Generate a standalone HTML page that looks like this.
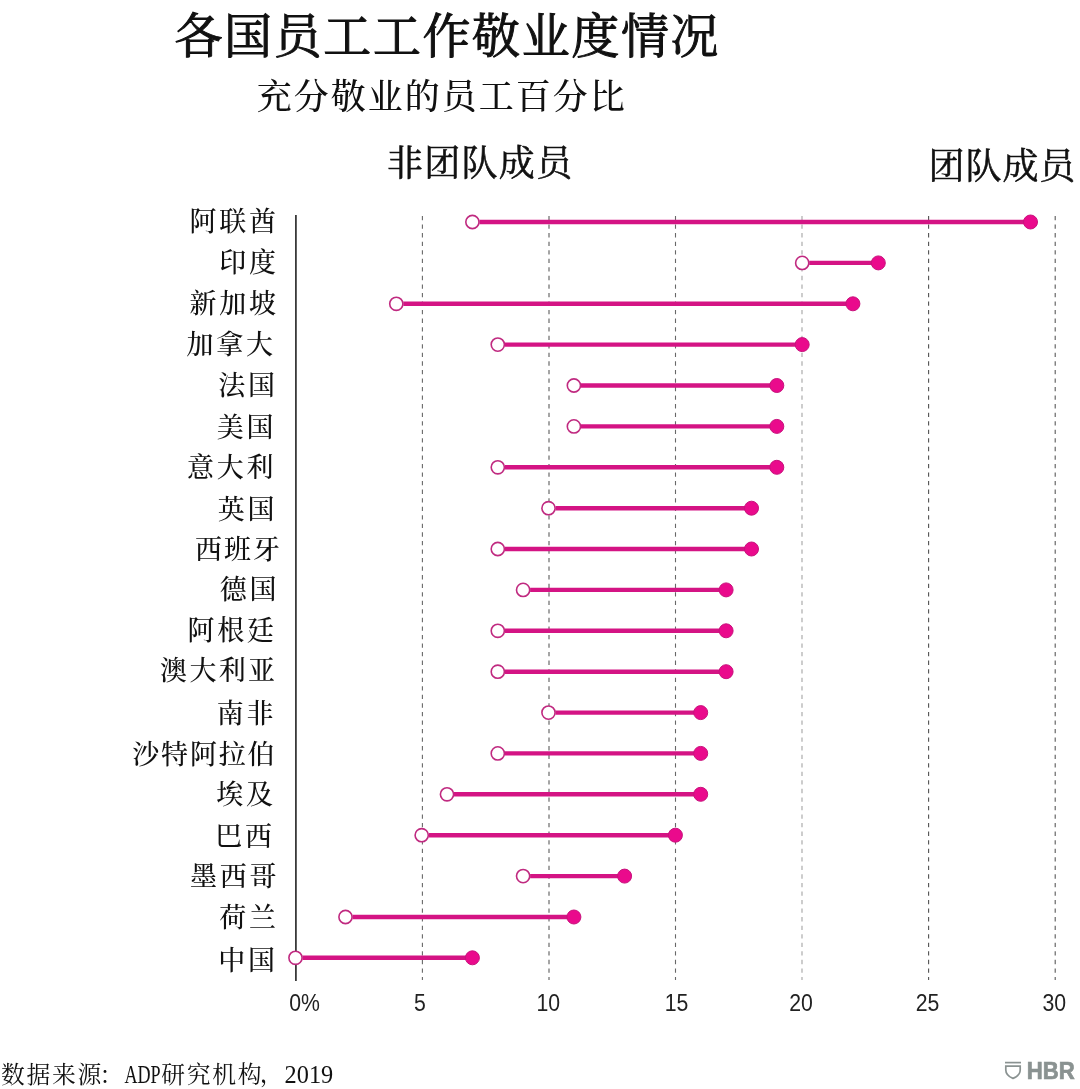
<!DOCTYPE html>
<html lang="zh-CN">
<head>
<meta charset="utf-8">
<title>各国员工工作敬业度情况</title>
<style>
html,body{margin:0;padding:0;background:#fff;}
body{width:1080px;height:1089px;overflow:hidden;}
svg{display:block;}
.cjk{font-family:"Liberation Serif","Noto Serif CJK SC",serif;fill:#111;}
.lab{font-size:27px;font-weight:500;letter-spacing:2.8px;text-anchor:end;}
.tick{font-family:"Liberation Sans",sans-serif;font-size:24px;fill:#222;text-anchor:middle;}
.grid{stroke:#686868;stroke-width:1.1;stroke-dasharray:4.3 4.25;}
.bar{stroke:#d41484;stroke-width:4.4;}
.dotf{fill:#ea0a8c;stroke:#c8127c;stroke-width:1;}
.doto{fill:#fff;stroke:#c02a80;stroke-width:1.6;}
</style>
</head>
<body>
<svg width="1080" height="1089" viewBox="0 0 1080 1089">
<rect width="1080" height="1089" fill="#fff"/>
<text class="cjk" x="447.3" y="52.8" text-anchor="middle" font-size="48" font-weight="400" stroke="#111" stroke-width="1" letter-spacing="1.6">各国员工工作敬业度情况</text>
<text class="cjk" x="441.8" y="108.8" text-anchor="middle" font-size="35" font-weight="500" letter-spacing="2">充分敬业的员工百分比</text>
<text class="cjk" x="480.2" y="176.2" text-anchor="middle" font-size="36" font-weight="400" stroke="#111" stroke-width="0.6" letter-spacing="1.3">非团队成员</text>
<text class="cjk" x="1002.4" y="179" text-anchor="middle" font-size="36" font-weight="400" stroke="#111" stroke-width="0.6" letter-spacing="0.9">团队成员</text>
<line class="grid" x1="422.4" y1="216" x2="422.4" y2="980"/>
<line class="grid" style="stroke:#5c5c5c" x1="549.0" y1="216" x2="549.0" y2="980"/>
<line class="grid" x1="675.5" y1="216" x2="675.5" y2="980"/>
<line class="grid" style="stroke:#a4a4a4" x1="802.0" y1="216" x2="802.0" y2="980"/>
<line class="grid" style="stroke:#525252" x1="928.6" y1="216" x2="928.6" y2="980"/>
<line class="grid" style="stroke:#5a5a5a" x1="1055.2" y1="216" x2="1055.2" y2="980"/>
<line x1="295.9" y1="215" x2="295.9" y2="981" stroke="#3a3a3a" stroke-width="1.8"/>
<text class="cjk lab" x="278.8" y="231.2">阿联酋</text>
<line class="bar" x1="479.4" y1="222.0" x2="1030.5" y2="222.0"/>
<circle class="dotf" cx="1030.5" cy="222.0" r="7"/>
<circle class="doto" cx="472.4" cy="222.0" r="6.6"/>
<text class="cjk lab" x="278.8" y="272.1">印度</text>
<line class="bar" x1="809.2" y1="262.9" x2="878.3" y2="262.9"/>
<circle class="dotf" cx="878.3" cy="262.9" r="7"/>
<circle class="doto" cx="802.2" cy="262.9" r="6.6"/>
<text class="cjk lab" x="278.8" y="313.0">新加坡</text>
<line class="bar" x1="403.3" y1="303.8" x2="852.9" y2="303.8"/>
<circle class="dotf" cx="852.9" cy="303.8" r="7"/>
<circle class="doto" cx="396.3" cy="303.8" r="6.6"/>
<text class="cjk lab" x="275.8" y="353.8">加拿大</text>
<line class="bar" x1="504.8" y1="344.6" x2="802.2" y2="344.6"/>
<circle class="dotf" cx="802.2" cy="344.6" r="7"/>
<circle class="doto" cx="497.8" cy="344.6" r="6.6"/>
<text class="cjk lab" x="277.8" y="394.7">法国</text>
<line class="bar" x1="580.9" y1="385.5" x2="776.8" y2="385.5"/>
<circle class="dotf" cx="776.8" cy="385.5" r="7"/>
<circle class="doto" cx="573.9" cy="385.5" r="6.6"/>
<text class="cjk lab" x="276.3" y="437.1">美国</text>
<line class="bar" x1="580.9" y1="426.4" x2="776.8" y2="426.4"/>
<circle class="dotf" cx="776.8" cy="426.4" r="7"/>
<circle class="doto" cx="573.9" cy="426.4" r="6.6"/>
<text class="cjk lab" x="276.3" y="477.0">意大利</text>
<line class="bar" x1="504.8" y1="467.3" x2="776.8" y2="467.3"/>
<circle class="dotf" cx="776.8" cy="467.3" r="7"/>
<circle class="doto" cx="497.8" cy="467.3" r="6.6"/>
<text class="cjk lab" x="277.3" y="519.4">英国</text>
<line class="bar" x1="555.5" y1="508.2" x2="751.5" y2="508.2"/>
<circle class="dotf" cx="751.5" cy="508.2" r="7"/>
<circle class="doto" cx="548.5" cy="508.2" r="6.6"/>
<text class="cjk lab" x="282.0" y="559.2" style="letter-spacing:2.0px">西班牙</text>
<line class="bar" x1="504.8" y1="549.0" x2="751.5" y2="549.0"/>
<circle class="dotf" cx="751.5" cy="549.0" r="7"/>
<circle class="doto" cx="497.8" cy="549.0" r="6.6"/>
<text class="cjk lab" x="279.3" y="599.1">德国</text>
<line class="bar" x1="530.1" y1="589.9" x2="726.1" y2="589.9"/>
<circle class="dotf" cx="726.1" cy="589.9" r="7"/>
<circle class="doto" cx="523.1" cy="589.9" r="6.6"/>
<text class="cjk lab" x="276.8" y="640.0">阿根廷</text>
<line class="bar" x1="504.8" y1="630.8" x2="726.1" y2="630.8"/>
<circle class="dotf" cx="726.1" cy="630.8" r="7"/>
<circle class="doto" cx="497.8" cy="630.8" r="6.6"/>
<text class="cjk lab" x="277.3" y="680.4" style="letter-spacing:2.3px">澳大利亚</text>
<line class="bar" x1="504.8" y1="671.7" x2="726.1" y2="671.7"/>
<circle class="dotf" cx="726.1" cy="671.7" r="7"/>
<circle class="doto" cx="497.8" cy="671.7" r="6.6"/>
<text class="cjk lab" x="276.3" y="723.3">南非</text>
<line class="bar" x1="555.5" y1="712.6" x2="700.7" y2="712.6"/>
<circle class="dotf" cx="700.7" cy="712.6" r="7"/>
<circle class="doto" cx="548.5" cy="712.6" r="6.6"/>
<text class="cjk lab" x="276.3" y="763.8" style="letter-spacing:1.8px">沙特阿拉伯</text>
<line class="bar" x1="504.8" y1="753.4" x2="700.7" y2="753.4"/>
<circle class="dotf" cx="700.7" cy="753.4" r="7"/>
<circle class="doto" cx="497.8" cy="753.4" r="6.6"/>
<text class="cjk lab" x="275.8" y="803.5">埃及</text>
<line class="bar" x1="454.0" y1="794.3" x2="700.7" y2="794.3"/>
<circle class="dotf" cx="700.7" cy="794.3" r="7"/>
<circle class="doto" cx="447.0" cy="794.3" r="6.6"/>
<text class="cjk lab" x="274.8" y="845.9">巴西</text>
<line class="bar" x1="428.7" y1="835.2" x2="675.4" y2="835.2"/>
<circle class="dotf" cx="675.4" cy="835.2" r="7"/>
<circle class="doto" cx="421.7" cy="835.2" r="6.6"/>
<text class="cjk lab" x="279.3" y="885.8">墨西哥</text>
<line class="bar" x1="530.1" y1="876.1" x2="624.6" y2="876.1"/>
<circle class="dotf" cx="624.6" cy="876.1" r="7"/>
<circle class="doto" cx="523.1" cy="876.1" r="6.6"/>
<text class="cjk lab" x="278.8" y="926.7">荷兰</text>
<line class="bar" x1="352.5" y1="917.0" x2="573.9" y2="917.0"/>
<circle class="dotf" cx="573.9" cy="917.0" r="7"/>
<circle class="doto" cx="345.5" cy="917.0" r="6.6"/>
<text class="cjk lab" x="277.8" y="970.0">中国</text>
<line class="bar" x1="302.5" y1="957.8" x2="472.4" y2="957.8"/>
<circle class="dotf" cx="472.4" cy="957.8" r="7"/>
<circle class="doto" cx="295.5" cy="957.8" r="6.6"/>
<text class="tick" transform="translate(304.5 1011.4) scale(0.885 1)">0%</text>
<text class="tick" transform="translate(419.9 1011.4) scale(0.885 1)">5</text>
<text class="tick" transform="translate(548.2 1011.4) scale(0.885 1)">10</text>
<text class="tick" transform="translate(676.5 1011.4) scale(0.885 1)">15</text>
<text class="tick" transform="translate(801.0 1011.4) scale(0.885 1)">20</text>
<text class="tick" transform="translate(927.6 1011.4) scale(0.885 1)">25</text>
<text class="tick" transform="translate(1054.2 1011.4) scale(0.885 1)">30</text>
<g class="cjk" font-size="23.8" letter-spacing="1.7">
<text x="0.9" y="1082.7">数据来源</text>
<text x="99.4" y="1082.7">：</text>
<text x="124.4" y="1082.6" font-size="24.8" letter-spacing="0" textLength="36.2" lengthAdjust="spacingAndGlyphs">ADP</text>
<text x="161.2" y="1082.7">研究机构</text>
<text x="259.8" y="1082.2">，</text>
<text x="284.6" y="1082.6" font-size="24.2" letter-spacing="0" textLength="48.6" lengthAdjust="spacingAndGlyphs">2019</text>
</g>
<g fill="none" stroke="#8a9291" stroke-width="1.7">
<line x1="1005" y1="1062.6" x2="1021" y2="1062.6"/>
<path d="M1005.8 1066.2 H1020.2 V1070 C1020.2 1074.5 1016.5 1077 1013 1078.4 C1009.5 1077 1005.8 1074.5 1005.8 1070 Z"/>
</g>
<text x="1026.8" y="1079.2" font-family="'Liberation Sans',sans-serif" font-weight="700" font-size="24.4" fill="#8a9291" stroke="#8a9291" stroke-width="0.7" textLength="48" lengthAdjust="spacingAndGlyphs">HBR</text>
</svg>
</body>
</html>
